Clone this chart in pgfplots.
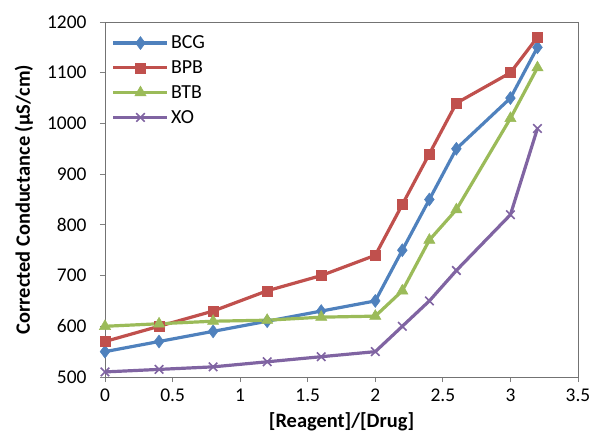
\documentclass[border=0pt]{standalone}
\usepackage{pgfplots}
\pgfplotsset{compat=1.18}
\usepackage{fontspec}
\setmainfont{Carlito}
\definecolor{cBCG}{HTML}{4F81BD}
\definecolor{cBPB}{HTML}{C0504D}
\definecolor{cBTB}{HTML}{9BBB59}
\definecolor{cXO}{HTML}{8064A2}
\begin{document}
\begin{tikzpicture}
\useasboundingbox (-105bp,-55bp) rectangle (493bp,377bp);
\begin{axis}[
  name=ax, at={(0,0)}, anchor=south west,
  scale only axis,
  width=473bp, height=355bp,
  xmin=0, xmax=3.5, ymin=500, ymax=1200,
  xtick={0,0.5,1,1.5,2,2.5,3,3.5},
  ytick={500,600,...,1200},
  tick align=outside,
  tick pos=left,
  major tick length=5bp,
  axis line style={draw=black!55, line width=1pt},
  tick style={draw=black!50, line width=1pt},
  /pgf/number format/assume math mode=true,
  ticklabel style={font=\fontsize{19.5}{21}\selectfont},
  yticklabel style={/pgf/number format/1000 sep={}, xshift=-10bp},
  xticklabel style={yshift=-3bp},
  xlabel={\textbf{[Reagent]/[Drug]}},
  ylabel={\textbf{Corrected Conductance (µS/cm)}},
  label style={font=\fontsize{20.5}{22}\selectfont},
  xlabel style={at={(axis description cs:0.5,0)}, anchor=center, yshift=-45bp},
  ylabel style={at={([xshift=-81bp]axis description cs:0,0.5)}, anchor=center},
  legend style={draw=none, fill=none, at={(0.012,0.97)}, anchor=north west,
    font=\fontsize{20}{22}\selectfont, row sep=6.5pt, inner sep=1pt},
  legend cell align=left,
  legend image code/.code={
    \draw[#1, mark repeat=2, mark phase=2] plot coordinates {(0bp,0bp) (27bp,0bp) (54bp,0bp)};},
  every axis plot/.append style={line width=3.2bp},
]
\addplot[color=cBCG, mark=diamond*, mark size=6.5bp, mark options={solid, line width=0.5pt}] coordinates {
(0,550) (0.4,570) (0.8,590) (1.2,610) (1.6,630) (2,650) (2.2,750) (2.4,850) (2.6,950) (3,1050) (3.2,1150)};
\addlegendentry{BCG}
\addplot[color=cBPB, mark=square*, mark size=5bp, mark options={solid, line width=0.5pt}] coordinates {
(0,570) (0.4,600) (0.8,630) (1.2,670) (1.6,700) (2,740) (2.2,840) (2.4,940) (2.6,1040) (3,1100) (3.2,1170)};
\addlegendentry{BPB}
\addplot[color=cBTB, mark=triangle*, mark size=6.5bp, mark options={solid, line width=0.5pt}] coordinates {
(0,600) (0.4,605) (0.8,610) (1.2,612) (1.6,618) (2,620) (2.2,670) (2.4,770) (2.6,830) (3,1010) (3.2,1110)};
\addlegendentry{BTB}
\addplot[color=cXO, mark=x, mark size=6bp, mark options={solid, line width=1.6bp}] coordinates {
(0,510) (0.4,515) (0.8,520) (1.2,530) (1.6,540) (2,550) (2.2,600) (2.4,650) (2.6,710) (3,820) (3.2,990)};
\addlegendentry{XO}
\end{axis}
\end{tikzpicture}
\end{document}
